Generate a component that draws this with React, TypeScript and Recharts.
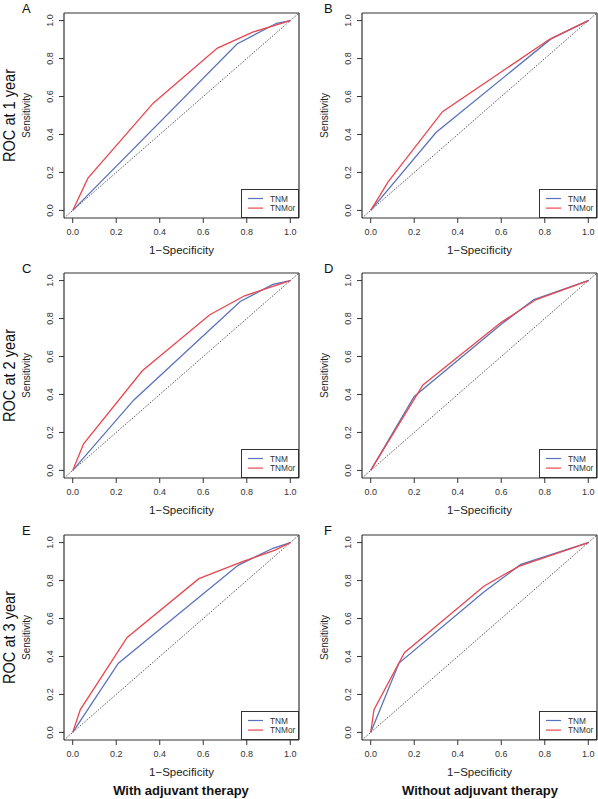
import React from "react";
import { LineChart, Line, XAxis, YAxis, ReferenceLine, Legend } from "recharts";

// ROC curves, [1-specificity, sensitivity]
const tnmA = [[0, 0], [0.755, 0.877], [0.937, 0.986], [1, 1]];
const tnmorA = [[0, 0], [0.07, 0.17], [0.37, 0.565], [0.665, 0.855], [0.83, 0.94], [1, 1]];
const tnmB = [[0, 0], [0.3, 0.41], [0.83, 0.905], [1, 1]];
const tnmorB = [[0, 0], [0.08, 0.15], [0.33, 0.52], [0.82, 0.9], [1, 1]];
const tnmC = [[0, 0], [0.28, 0.37], [0.77, 0.89], [0.92, 0.98], [1, 1]];
const tnmorC = [[0, 0], [0.05, 0.14], [0.32, 0.525], [0.63, 0.82], [0.79, 0.92], [0.92, 0.97], [1, 1]];
const tnmD = [[0, 0], [0.2, 0.39], [0.6, 0.77], [0.75, 0.9], [1, 1]];
const tnmorD = [[0, 0], [0.24, 0.45], [0.6, 0.78], [0.76, 0.9], [1, 1]];
const tnmE = [[0, 0], [0.21, 0.365], [0.76, 0.88], [0.92, 0.97], [1, 1]];
const tnmorE = [[0, 0], [0.035, 0.12], [0.25, 0.5], [0.58, 0.81], [0.78, 0.9], [0.93, 0.96], [1, 1]];
const tnmF = [[0, 0], [0.13, 0.365], [0.52, 0.74], [0.69, 0.885], [1, 1]];
const tnmorF = [[0, 0], [0.015, 0.12], [0.155, 0.42], [0.52, 0.77], [0.68, 0.875], [1, 1]];

const ticks = [0, 0.2, 0.4, 0.6, 0.8, 1];
const panelLetters = ["A", "B", "C", "D", "E", "F"];
const rowTitles = ["ROC at 1 year", "ROC at 2 year", "ROC at 3 year"];
const colTitles = ["With adjuvant therapy", "Without adjuvant therapy"];
const seriesNames = ["TNM", "TNMor"];

const BLUE = "#5a72b9";
const RED = "#e8474f";
const FRAME = "#333";
const FONT = "'Liberation Sans', Arial, Helvetica, sans-serif";

const toPts = (arr: number[][]) => arr.map(([x, y]) => ({ x, y }));

const panels = [
  [tnmA, tnmorA],
  [tnmB, tnmorB],
  [tnmC, tnmorC],
  [tnmD, tnmorD],
  [tnmE, tnmorE],
  [tnmF, tnmorF],
];

const rowTops = [0, 260, 522];
const colLefts = [0, 298];
const LO = -0.04;
const HI = 1.04;
const DOMAIN: [number, number] = [LO, HI];

// tickSize 5 + tickMargin 6 => the axis sits 11px from the label anchor
const XTick = (props: any) => {
  const { x, y, payload } = props;
  return (
    <g>
      <line x1={x} x2={x} y1={y - 11} y2={y - 6} stroke={FRAME} strokeWidth={1} />
      <text x={x} y={y} dy="0.71em" textAnchor="middle" fontSize={9} fill="#333" fontFamily={FONT}>
        {Number(payload.value).toFixed(1)}
      </text>
    </g>
  );
};

const YTick = (props: any) => {
  const { x, y, payload } = props;
  return (
    <g>
      <line x1={x + 6} x2={x + 11} y1={y} y2={y} stroke={FRAME} strokeWidth={1} />
      <text
        x={x}
        y={y}
        transform={`rotate(-90 ${x} ${y})`}
        textAnchor="middle"
        fontSize={9}
        fill="#333"
        fontFamily={FONT}
      >
        {Number(payload.value).toFixed(1)}
      </text>
    </g>
  );
};

const LegendBox = (props: any) => {
  const items = props.payload || [];
  return (
    <div
      style={{
        width: 58,
        height: 29,
        border: `1px solid ${FRAME}`,
        background: "#fff",
        boxSizing: "border-box",
      }}
    >
      <svg width={58} height={29} style={{ display: "block" }}>
        {items.map((it: any, i: number) => (
          <g key={it.value}>
            <line x1={6} x2={21} y1={8.5 + i * 9.6} y2={8.5 + i * 9.6} stroke={it.color} strokeWidth={1.2} />
            <text x={28} y={8.5 + i * 9.6 + 3} fontSize={8.3} fill="#333" fontFamily={FONT}>
              {it.value}
            </text>
          </g>
        ))}
      </svg>
    </div>
  );
};

const frameSides = [
  [{ x: LO, y: LO }, { x: HI, y: LO }],
  [{ x: LO, y: HI }, { x: HI, y: HI }],
  [{ x: LO, y: LO }, { x: LO, y: HI }],
  [{ x: HI, y: LO }, { x: HI, y: HI }],
];

const Panel = ({ idx }: { idx: number }) => {
  const [tnm, tnmor] = panels[idx];
  const row = Math.floor(idx / 2);
  const col = idx % 2;
  return (
    <div style={{ position: "absolute", left: colLefts[col], top: rowTops[row] }}>
      <LineChart width={300} height={263} margin={{ top: 13, right: 1, left: 0, bottom: 0 }}>
        <XAxis
          dataKey="x"
          type="number"
          domain={DOMAIN}
          ticks={ticks}
          allowDataOverflow
          height={45}
          axisLine={false}
          tickLine={false}
          tickSize={5}
          tickMargin={6}
          tick={<XTick />}
          label={{
            content: (p: any) => {
              const vb = p.viewBox;
              return (
                <text
                  x={vb.x + vb.width / 2}
                  y={vb.y + 35.5}
                  textAnchor="middle"
                  fontSize={11.5}
                  fill="#222"
                  fontFamily={FONT}
                >
                  1−Specificity
                </text>
              );
            },
          }}
        />
        <YAxis
          dataKey="y"
          type="number"
          domain={DOMAIN}
          ticks={ticks}
          allowDataOverflow
          width={64}
          axisLine={false}
          tickLine={false}
          tickSize={5}
          tickMargin={6}
          tick={<YTick />}
        />
        {frameSides.map((seg, i) => (
          <ReferenceLine
            key={i}
            segment={seg}
            stroke={FRAME}
            strokeWidth={1.2}
            ifOverflow="visible"
          />
        ))}
        <ReferenceLine
          segment={[
            { x: LO, y: LO },
            { x: HI, y: HI },
          ]}
          stroke="#444"
          strokeWidth={0.9}
          strokeDasharray="1.5 1.5"
          ifOverflow="visible"
        />
        <Line
          data={toPts(tnm)}
          dataKey="y"
          name={seriesNames[0]}
          stroke={BLUE}
          strokeWidth={1.3}
          dot={false}
          activeDot={false}
          isAnimationActive={false}
        />
        <Line
          data={toPts(tnmor)}
          dataKey="y"
          name={seriesNames[1]}
          stroke={RED}
          strokeWidth={1.3}
          dot={false}
          activeDot={false}
          isAnimationActive={false}
        />
        <Legend
          layout="horizontal"
          align="center"
          verticalAlign="middle"
          content={<LegendBox />}
          wrapperStyle={{ left: 241, top: 189, width: 58, height: 29 }}
        />
      </LineChart>
    </div>
  );
};

export default function App() {
  return (
    <div
      style={{
        position: "absolute",
        left: 0,
        top: 0,
        width: 598,
        height: 799,
        background: "#fff",
        fontFamily: FONT,
      }}
    >
      {[0, 1, 2, 3, 4, 5].map((i) => (
        <Panel key={i} idx={i} />
      ))}
      <svg
        width={598}
        height={799}
        style={{ position: "absolute", left: 0, top: 0, pointerEvents: "none" }}
      >
        {panelLetters.map((l, i) => {
          const row = Math.floor(i / 2);
          const col = i % 2;
          return (
            <text
              key={l}
              x={col === 0 ? 22 : 324}
              y={rowTops[row] + 13}
              fontSize={13}
              fill="#111"
              fontFamily={FONT}
            >
              {l}
            </text>
          );
        })}
        {rowTitles.map((t, r) => {
          const cy = rowTops[r] + 13 + 102.5;
          return (
            <text
              key={t}
              x={15}
              y={cy}
              transform={`rotate(-90 15 ${cy})`}
              textAnchor="middle"
              fontSize={16}
              textLength={93}
              lengthAdjust="spacingAndGlyphs"
              fill="#111"
              fontFamily={FONT}
            >
              {t}
            </text>
          );
        })}
        {[0, 1, 2, 3, 4, 5].map((i) => {
          const row = Math.floor(i / 2);
          const col = i % 2;
          const cx = colLefts[col] + 30;
          const cy = rowTops[row] + 13 + 102.5;
          return (
            <text
              key={"s" + i}
              x={cx}
              y={cy}
              transform={`rotate(-90 ${cx} ${cy})`}
              textAnchor="middle"
              fontSize={10.5}
              textLength={45}
              lengthAdjust="spacingAndGlyphs"
              fill="#222"
              fontFamily={FONT}
            >
              Sensitivity
            </text>
          );
        })}
        {colTitles.map((t, c) => (
          <text
            key={t}
            x={c === 0 ? 181 : 480}
            y={795}
            textAnchor="middle"
            fontSize={13}
            fontWeight="bold"
            fill="#111"
            fontFamily={FONT}
          >
            {t}
          </text>
        ))}
      </svg>
    </div>
  );
}
